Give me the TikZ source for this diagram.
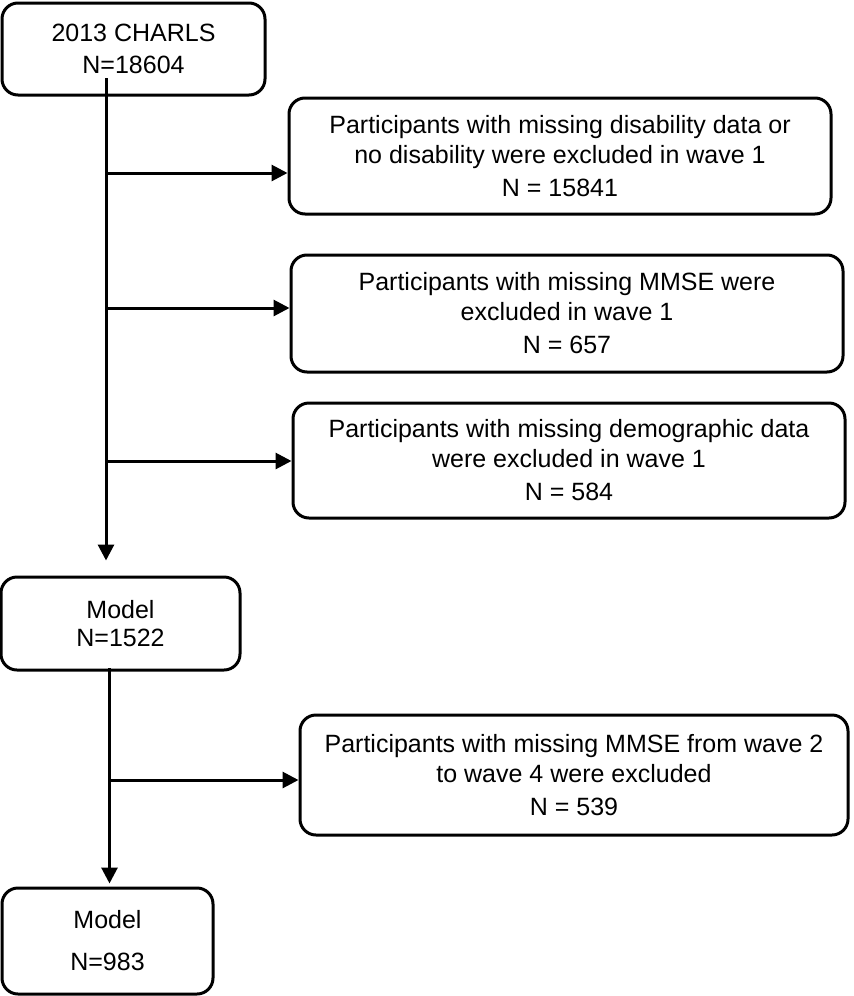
\documentclass[tikz,border=0pt]{standalone}
\usepackage{fontspec}
\setmainfont{Liberation Sans}
\usetikzlibrary{arrows.meta}

\tikzset{
  box/.style 2 args={draw, line width=1.5pt, rounded corners=8pt, align=center,
    inner sep=0pt, minimum width=#1*0.5pt, minimum height=#2*0.5pt,
    font=\fontsize{12.5}{15}\selectfont},
  arr/.style={-{Triangle[length=8pt,width=8pt]}, line width=1.5pt}
}

\begin{document}
\begin{tikzpicture}[x=0.5pt, y=-0.5pt]
    \useasboundingbox (0,0) rectangle (854,996);

    \node [box={263}{92}] (charls) at (133.5, 49) {2013 CHARLS\\[1pt] N=18604};
    \node [box={542}{116}] (ex1) at (560, 156) {Participants with missing disability data or\\ no disability were excluded in wave 1\\[1.5pt] N = 15841};
    \node [box={552}{117}] (ex2) at (567, 313.5) {Participants with missing MMSE were\\ excluded in wave 1\\[1.5pt] N = 657};
    \node [box={552}{115}] (ex3) at (569, 460.5) {Participants with missing demographic data\\ were excluded in wave 1\\[1.5pt] N = 584};
    \node [box={239}{93}] (model1) at (120.5, 623.5) {Model\\[-1pt] N=1522};
    \node [box={548}{120}] (ex4) at (574, 775) {Participants with missing MMSE from wave 2\\ to wave 4 were excluded\\[1.5pt] N = 539};
    \node [box={211}{106}] (model2) at (107.5, 941) {Model\\[6pt] N=983};

    \pgfmathsetmacro{\ta}{106};
    \pgfmathsetmacro{\tb}{109.5};

    \coordinate (top) at (\ta, 78);
    \coordinate (mid) at (\tb, 668);
    \coordinate (a1) at (ex1.west |- 0,173);
    \coordinate (a2) at (ex2.west |- 0,308);
    \coordinate (a3) at (ex3.west |- 0,461);
    \coordinate (a4) at (ex4.west |- 0,780);

    \draw [arr, shorten >=7.5pt] (top) -- (top |- model1.north);
    \draw [arr] (top |- a1) -- (a1);
    \draw [arr] (top |- a2) -- (a2);
    \draw [arr] (top |- a3) -- (a3);

    \draw [arr, shorten >=1.5pt] (mid) -- (mid |- model2.north);
    \draw [arr] (mid |- a4) -- (a4);
\end{tikzpicture}
\end{document}
